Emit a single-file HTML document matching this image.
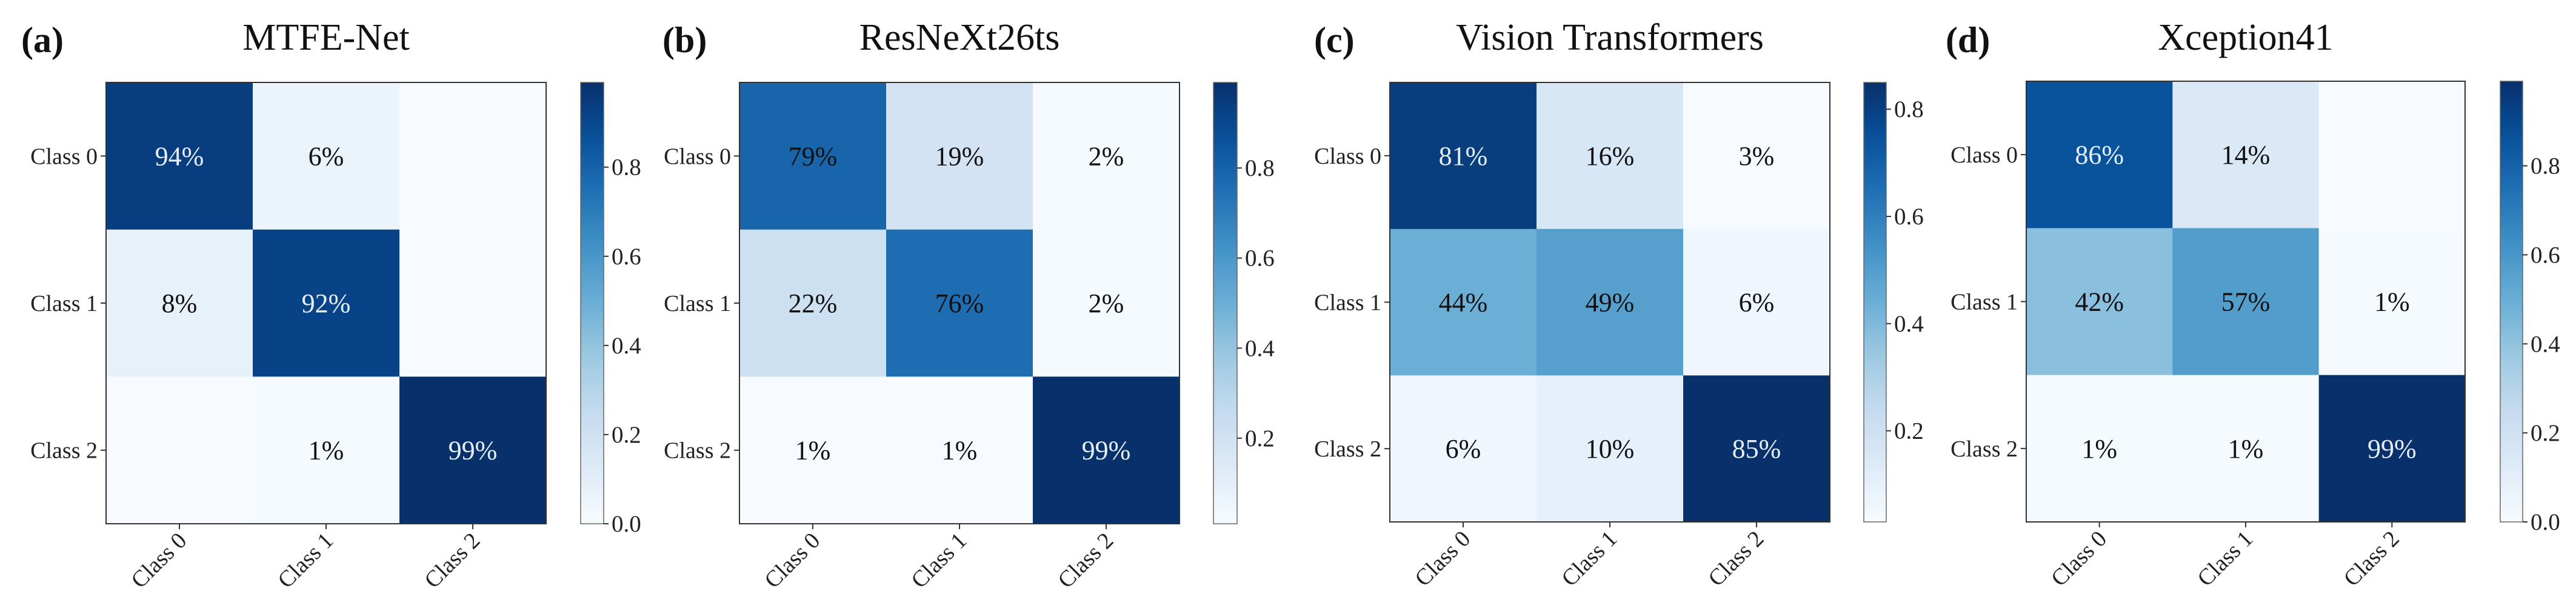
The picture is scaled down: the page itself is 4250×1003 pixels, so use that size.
<!DOCTYPE html>
<html><head><meta charset="utf-8">
<style>
html,body{margin:0;padding:0;background:#fff;overflow:hidden;}
svg{display:block;font-family:"Liberation Serif","Times New Roman",serif;}
svg text{font-family:"Liberation Serif","Times New Roman",serif;}
</style></head>
<body>
<svg id="fig" width="4250" height="1003" viewBox="0 0 4250 1003" xmlns="http://www.w3.org/2000/svg"></svg>
<script>
const classLabels = ["Class 0","Class 1","Class 2"];
const panelLetters = ["(a)","(b)","(c)","(d)"];
const panelTitles = ["MTFE-Net","ResNeXt26ts","Vision Transformers","Xception41"];
const matA = [[0.94,0.06,0.00],[0.08,0.92,0.00],[0.00,0.01,0.99]];
const matB = [[0.79,0.19,0.02],[0.22,0.76,0.02],[0.01,0.01,0.99]];
const matC = [[0.81,0.16,0.03],[0.44,0.49,0.06],[0.06,0.10,0.85]];
const matD = [[0.86,0.14,0.00],[0.42,0.57,0.01],[0.01,0.01,0.99]];
const hideZero = [true,false,false,true];
const cbTicksA = [0.0,0.2,0.4,0.6,0.8];
const cbTicksB = [0.2,0.4,0.6,0.8];
const cbTicksC = [0.2,0.4,0.6,0.8];
const cbTicksD = [0.0,0.2,0.4,0.6,0.8];

const mats=[matA,matB,matC,matD];
const cbTicks=[cbTicksA,cbTicksB,cbTicksC,cbTicksD];
const layout=[
 {hx:175,hr:901,top:136,bot:864,cx:958,cr:996,lx:35},
 {hx:1220,hr:1946,top:136,bot:864,cx:2002,cr:2041,lx:1093},
 {hx:2293,hr:3019,top:136,bot:861,cx:3075,cr:3112,lx:2168},
 {hx:3343,hr:4067,top:134,bot:861,cx:4125,cr:4162,lx:3210}
];
const FF='"Liberation Serif","Times New Roman",serif';
const stops=["#f7fbff","#deebf7","#c6dbef","#9ecae1","#6baed6","#4292c6","#2171b5","#08519c","#08306b"];
function hex(c){return [1,3,5].map(i=>parseInt(c.substr(i,2),16));}
function blues(t){t=Math.max(0,Math.min(1,t));const p=t*8;const i=Math.min(7,Math.floor(p));const f=p-i;
 const a=hex(stops[i]),b=hex(stops[i+1]);return "rgb("+a.map((v,k)=>Math.round(v+(b[k]-v)*f)).join(",")+")";}
const NS="http://www.w3.org/2000/svg";
const svg=document.getElementById('fig');
function el(tag,attrs,parent,text){const e=document.createElementNS(NS,tag);for(const k in attrs)e.setAttribute(k,attrs[k]);if(text!==undefined){e.setAttribute('font-family',FF);e.textContent=text;}(parent||svg).appendChild(e);return e;}

mats.forEach((m,p)=>{
 const L=layout[p];
 const g=el('g',{});
 
 
 const flat=m.flat();
 const vmin=Math.min(...flat), vmax=Math.max(...flat);
 const cw=(L.hr-L.hx)/3, ch=(L.bot-L.top)/3;
 const xOf=j=>L.hx+cw*j, yOf=i=>L.top+ch*i;
 const lt=el('text',{x:L.lx,y:86,'font-size':60,'font-weight':'bold',fill:'#111'},g,panelLetters[p]);
 
 
 const tt=el('text',{x:(L.hx+L.hr)/2,y:82,'font-size':62,'text-anchor':'middle',fill:'#111'},g,panelTitles[p]);
 
 
 m.forEach((row,i)=>row.forEach((v,j)=>{
  const r=el('rect',{x:xOf(j),y:yOf(i),width:cw+0.5,height:ch+0.5,fill:blues((v-vmin)/(vmax-vmin))},g);
  
  
  if(!(hideZero[p]&&v===0)){
   const t=el('text',{x:xOf(j)+cw/2,y:yOf(i)+ch/2+15,'font-size':44,'text-anchor':'middle',fill:v>0.8?'#e6eef8':'#111'},g,Math.round(v*100)+'%');
   
   
  }
 }));
 const fr=el('rect',{x:L.hx,y:L.top,width:L.hr-L.hx,height:L.bot-L.top,fill:'none',stroke:'#333','stroke-width':2},g);
 
 
 classLabels.forEach((c,k)=>{
  const yc=yOf(k)+ch/2;
  el('line',{x1:L.hx-9,x2:L.hx,y1:yc,y2:yc,stroke:'#333','stroke-width':2},g);
  const yl=el('text',{x:L.hx-14,y:yc+13,'font-size':38,'text-anchor':'end',fill:'#222'},g,c);
  
  
  const xc=xOf(k)+cw/2;
  el('line',{x1:xc,x2:xc,y1:L.bot,y2:L.bot+9,stroke:'#333','stroke-width':2},g);
  const xl=el('text',{x:0,y:0,'font-size':38,'text-anchor':'end',fill:'#222',transform:'translate('+(xc+14)+','+(L.bot+30)+') rotate(-45)'},g,c);
  
  
 });
 const gid='cbg'+p;
 const defs=el('defs',{},g);
 const lg=el('linearGradient',{id:gid,x1:0,y1:1,x2:0,y2:0},defs);
 for(let s=0;s<=20;s++){const t=s/20;el('stop',{offset:t,'stop-color':blues(t)},lg);}
 const cb=el('rect',{x:L.cx,y:L.top,width:L.cr-L.cx,height:L.bot-L.top,fill:'url(#'+gid+')',stroke:'#666','stroke-width':1.5},g);
 
 
 const cy=v=>L.bot-(v-vmin)/(vmax-vmin)*(L.bot-L.top);
 cbTicks[p].forEach(v=>{
  const y=cy(v);
  el('line',{x1:L.cr,x2:L.cr+8,y1:y,y2:y,stroke:'#333','stroke-width':2},g);
  const ct=el('text',{x:L.cr+13,y:y+13,'font-size':39,fill:'#222'},g,v.toFixed(1));
  
  
 });
});
</script>
</body></html>
